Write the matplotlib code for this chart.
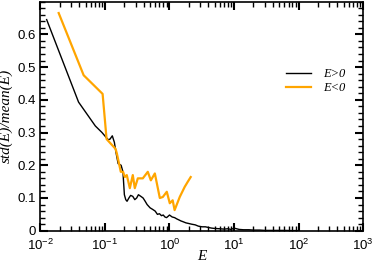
import numpy as np
import matplotlib
matplotlib.use("Agg")
import matplotlib.pyplot as plt
from matplotlib.ticker import MultipleLocator, LogLocator, NullFormatter

plt.rcParams["font.family"] = "Liberation Sans"
plt.rcParams["mathtext.fontset"] = "custom"
plt.rcParams["mathtext.rm"] = "Liberation Sans"
plt.rcParams["mathtext.it"] = "Liberation Sans:italic"

# data
e_pos = [0.0125, 0.039, 0.071, 0.09, 0.112, 0.12, 0.13, 0.14, 0.148, 0.16, 0.178, 0.19,
         0.2, 0.21, 0.22, 0.235, 0.25, 0.27, 0.29, 0.31, 0.33, 0.36, 0.39, 0.42, 0.45,
         0.5, 0.55, 0.6, 0.65, 0.7, 0.75, 0.8, 0.85, 0.9, 0.95, 1.0, 1.1, 1.2, 1.3, 1.4,
         1.5, 1.6, 1.8, 2.0, 2.2, 2.5, 2.8, 3.2, 3.6, 4, 4.5, 5, 6, 7, 8, 9, 10, 12, 14,
         17, 20, 25, 30, 40, 50, 60, 80, 100]
std_pos = [0.645, 0.393, 0.32, 0.3, 0.278, 0.28, 0.29, 0.27, 0.24, 0.205, 0.2, 0.18,
           0.11, 0.095, 0.09, 0.1, 0.108, 0.105, 0.095, 0.1, 0.11, 0.105, 0.1, 0.09, 0.08,
           0.07, 0.065, 0.06, 0.05, 0.052, 0.046, 0.048, 0.042, 0.04, 0.044, 0.048, 0.042,
           0.04, 0.036, 0.033, 0.03, 0.028, 0.024, 0.022, 0.02, 0.018, 0.014, 0.012, 0.012,
           0.01, 0.008, 0.007, 0.006, 0.005, 0.006, 0.004, 0.008, 0.004, 0.003, 0.003,
           0.002, 0.002, 0.001, 0.001, 0.001, 0.001, 0.0005, 0.0005]

e_neg = [0.0192, 0.0468, 0.092, 0.106, 0.146, 0.153, 0.176, 0.191, 0.203, 0.218, 0.243,
         0.27, 0.29, 0.323, 0.386, 0.461, 0.514, 0.593, 0.708, 0.787, 0.908, 1.01, 1.12,
         1.2, 1.44, 1.72, 1.91, 2.13]
std_neg = [0.665, 0.475, 0.418, 0.28, 0.25, 0.236, 0.18, 0.18, 0.164, 0.17, 0.13, 0.17,
           0.13, 0.16, 0.16, 0.18, 0.154, 0.175, 0.1, 0.103, 0.119, 0.084, 0.093, 0.063,
           0.103, 0.134, 0.149, 0.164]

serif = {"family": "Liberation Serif", "style": "italic"}

fig = plt.figure(figsize=(3.74, 2.64), dpi=100)
ax = fig.add_axes([0.108, 0.126, 0.863, 0.868])

ax.plot(e_pos, std_pos, color="black", lw=1.0, label="E>0")
ax.plot(e_neg, std_neg, color="#ffa500", lw=1.6, label="E<0")

ax.set_xscale("log")
ax.set_xlim(1e-2, 1e3)
ax.set_ylim(0, 0.7)
ax.set_yticks([0, 0.1, 0.2, 0.3, 0.4, 0.5, 0.6])
ax.set_yticklabels(["0", "0.1", "0.2", "0.3", "0.4", "0.5", "0.6"])
ax.yaxis.set_minor_locator(MultipleLocator(0.02))
ax.xaxis.set_major_locator(LogLocator(base=10, numticks=10))
ax.xaxis.set_minor_locator(LogLocator(base=10, subs=np.arange(2, 10), numticks=20))
ax.xaxis.set_minor_formatter(NullFormatter())

ax.tick_params(which="both", direction="in", top=True, right=True, labelsize=9.5)
ax.tick_params(which="major", length=6, width=1.5)
ax.tick_params(which="minor", length=3.5, width=1.0)
ax.tick_params(axis="x", which="major", pad=5)
for s in ax.spines.values():
    s.set_linewidth(1.2)

ax.set_xlabel("E", fontdict=serif, fontsize=11, labelpad=-2)
ax.set_ylabel("std(E)/mean(E)", fontdict=serif, fontsize=11, labelpad=3)

ax.legend(loc="upper left", bbox_to_anchor=(0.76, 0.71), frameon=False,
          borderpad=0, borderaxespad=0,
          prop={"family": "Liberation Serif", "style": "italic", "size": 9},
          handlelength=2.0, handletextpad=1.0, labelspacing=0.15)

fig.savefig("out.png", dpi=100)
